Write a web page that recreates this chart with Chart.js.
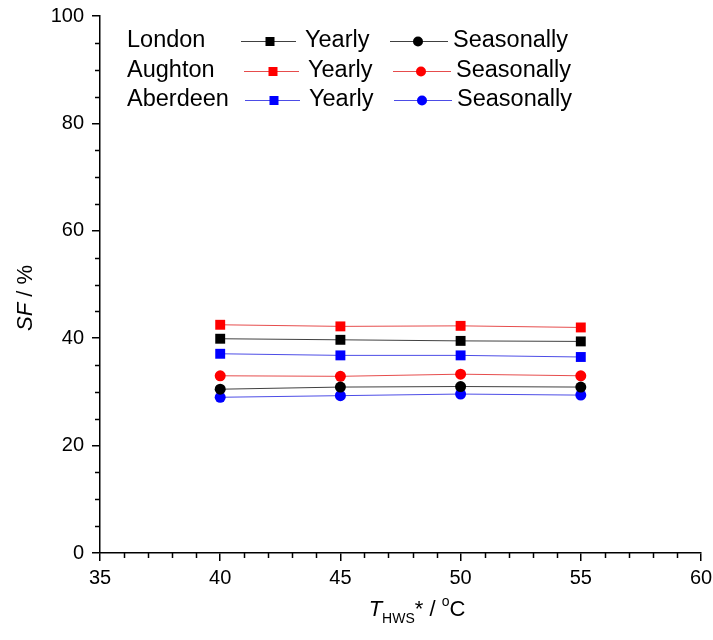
<!DOCTYPE html>
<html>
<head>
<meta charset="utf-8">
<script src="https://cdn.jsdelivr.net/npm/chart.js@4"></script>
<style>
html, body { margin: 0; padding: 0; background: #fff; }
</style>
</head>
<body>
<canvas id="sfChart" width="713" height="640"></canvas>
<script>
// data
const temps = [40, 45, 50, 55];
const sites = ['London', 'Aughton', 'Aberdeen'];
const londonYearly = [39.9, 39.7, 39.5, 39.4];
const londonSeasonal = [30.5, 30.9, 31.0, 30.9];
const aughtonYearly = [42.5, 42.2, 42.3, 42.0];
const aughtonSeasonal = [33.0, 32.9, 33.3, 33.0];
const aberdeenYearly = [37.1, 36.8, 36.8, 36.5];
const aberdeenSeasonal = [29.0, 29.3, 29.6, 29.4];
const xTicks = [35, 40, 45, 50, 55, 60];
const yTicks = [0, 20, 40, 60, 80, 100];
const xMinorStep = 1;
const yMinorStep = 5;

const markerColors = ['#000000', '#ff0000', '#0000ff'];
const lineColors = ['rgba(0,0,0,0.75)', 'rgba(220,0,0,0.7)', 'rgba(0,0,220,0.7)'];
const FONT = '"Liberation Sans", Arial, sans-serif';

const yearly = [londonYearly, aughtonYearly, aberdeenYearly];
const seasonal = [londonSeasonal, aughtonSeasonal, aberdeenSeasonal];

const toPoints = vals => temps.map((t, i) => ({ x: t, y: vals[i] }));

const datasets = [];
sites.forEach((site, i) => {
    datasets.push({
        label: site + ' Yearly',
        data: toPoints(yearly[i]),
        borderColor: lineColors[i],
        borderWidth: 1,
        backgroundColor: markerColors[i],
        pointBackgroundColor: markerColors[i],
        pointBorderColor: markerColors[i],
        pointStyle: 'rect',
        pointRadius: 7,
        pointBorderWidth: 0
    });
    datasets.push({
        label: site + ' Seasonally',
        data: toPoints(seasonal[i]),
        borderColor: lineColors[i],
        borderWidth: 1,
        backgroundColor: markerColors[i],
        pointBackgroundColor: markerColors[i],
        pointBorderColor: markerColors[i],
        pointStyle: 'circle',
        pointRadius: 5.5,
        pointBorderWidth: 0
    });
});

const minorTicks = {
    id: 'minorTicks',
    afterDraw(chart) {
        const { ctx, scales: { x, y } } = chart;
        ctx.save();
        ctx.strokeStyle = '#000';
        ctx.lineWidth = 1.5;
        ctx.beginPath();
        for (let v = x.min; v <= x.max; v += xMinorStep) {
            if (v % 5 === 0) continue;
            const px = Math.round(x.getPixelForValue(v)) + 0.5;
            ctx.moveTo(px, x.top);
            ctx.lineTo(px, x.top + 5);
        }
        for (let v = y.min; v <= y.max; v += yMinorStep) {
            if (v % 20 === 0) continue;
            const py = Math.round(y.getPixelForValue(v)) + 0.5;
            ctx.moveTo(y.right, py);
            ctx.lineTo(y.right - 5, py);
        }
        ctx.stroke();
        ctx.restore();
    }
};

const axisTitles = {
    id: 'axisTitles',
    afterDraw(chart) {
        const ctx = chart.ctx;
        ctx.save();
        ctx.fillStyle = '#000';
        ctx.textBaseline = 'alphabetic';

        // y title: SF / %
        ctx.translate(32, 298);
        ctx.rotate(-Math.PI / 2);
        ctx.font = 'italic 22px ' + FONT;
        const wSF = ctx.measureText('SF').width;
        ctx.font = '22px ' + FONT;
        const wRest = ctx.measureText(' / %').width;
        const sx = -(wSF + wRest) / 2;
        ctx.font = 'italic 22px ' + FONT;
        ctx.fillText('SF', sx, 0);
        ctx.font = '22px ' + FONT;
        ctx.fillText(' / %', sx + wSF, 0);
        ctx.setTransform(1, 0, 0, 1, 0, 0);

        // x title: T_HWS* / °C
        const parts = [
            { t: 'T', f: 'italic 22px ', dy: 0 },
            { t: 'HWS', f: '14px ', dy: 7 },
            { t: '* / ', f: '22px ', dy: 0 },
            { t: 'o', f: '14px ', dy: -10 },
            { t: 'C', f: '22px ', dy: 0 }
        ];
        let total = 0;
        parts.forEach(p => { ctx.font = p.f + FONT; p.w = ctx.measureText(p.t).width; total += p.w; });
        let cx = 417 - total / 2;
        const base = 616;
        parts.forEach(p => {
            ctx.font = p.f + FONT;
            ctx.fillText(p.t, cx, base + p.dy);
            cx += p.w;
        });
        ctx.restore();
    }
};

const customLegend = {
    id: 'customLegend',
    afterDraw(chart) {
        const ctx = chart.ctx;
        const rowsY = [41, 71, 100];
        const shift = [0, 3, 4];
        ctx.save();
        ctx.font = '23.5px ' + FONT;
        ctx.textBaseline = 'middle';
        sites.forEach((site, i) => {
            const yy = rowsY[i];
            const s = shift[i];
            ctx.fillStyle = '#000';
            ctx.fillText(site, 127, yy);
            ctx.fillText('Yearly', 305 + s, yy);
            ctx.fillText('Seasonally', 453 + s, yy);

            ctx.strokeStyle = lineColors[i];
            ctx.lineWidth = 1;
            ctx.beginPath();
            ctx.moveTo(241 + s, yy + 0.5); ctx.lineTo(296 + s, yy + 0.5);
            ctx.moveTo(390 + s, yy + 0.5); ctx.lineTo(448 + s, yy + 0.5);
            ctx.stroke();

            ctx.fillStyle = markerColors[i];
            ctx.fillRect(270 + s - 4.5, yy - 4, 9, 9);
            ctx.beginPath();
            ctx.arc(418 + s, yy + 0.5, 5, 0, Math.PI * 2);
            ctx.fill();
        });
        ctx.restore();
    }
};

new Chart(document.getElementById('sfChart'), {
    type: 'line',
    data: { datasets },
    options: {
        responsive: false,
        devicePixelRatio: 1,
        animation: false,
        layout: { padding: { left: 0, top: 16, right: 12, bottom: 0 } },
        plugins: {
            legend: { display: false },
            tooltip: { enabled: false }
        },
        scales: {
            x: {
                type: 'linear',
                min: 35,
                max: 60,
                afterBuildTicks: scale => { scale.ticks = xTicks.map(v => ({ value: v })); },
                afterFit: scale => {
                    scale.height = 87;
                    scale.paddingLeft = 0;
                    scale.paddingRight = 0;
                },
                grid: { drawOnChartArea: false, drawTicks: true, tickLength: 8, color: '#000', lineWidth: 1.5 },
                border: { color: '#000', width: 1.5 },
                ticks: { color: '#000', font: { family: FONT, size: 20 }, padding: 5, maxRotation: 0 }
            },
            y: {
                type: 'linear',
                min: 0,
                max: 100,
                afterBuildTicks: scale => { scale.ticks = yTicks.map(v => ({ value: v })); },
                afterFit: scale => {
                    scale.width = 100;
                    scale.paddingTop = 0;
                    scale.paddingBottom = 0;
                },
                grid: { drawOnChartArea: false, drawTicks: true, tickLength: 8, color: '#000', lineWidth: 1.5 },
                border: { color: '#000', width: 1.5 },
                ticks: { color: '#000', font: { family: FONT, size: 20 }, padding: 8 }
            }
        }
    },
    plugins: [minorTicks, axisTitles, customLegend]
});
</script>
</body>
</html>
